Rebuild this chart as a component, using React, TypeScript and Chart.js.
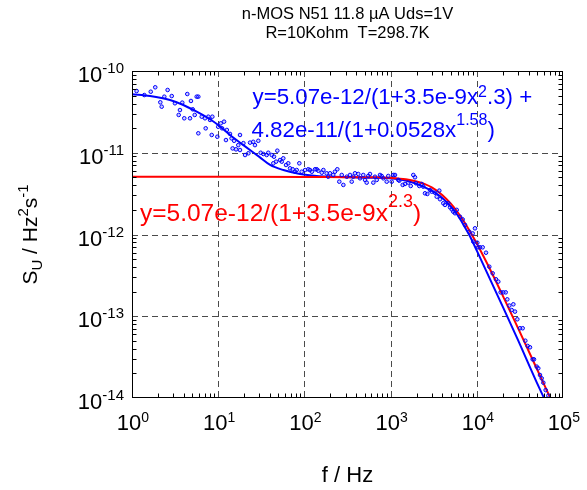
import { useEffect, useRef } from 'react';
import { Chart, registerables } from 'chart.js';

Chart.register(...registerables);

// Measured noise spectrum S_U(f)
const noiseFreq = [
  1.13, 1.39, 1.65, 1.86, 2.13, 2.21, 2.37, 2.59, 2.89, 3.15, 3.48, 3.6, 3.83, 4.04, 4.38, 4.71, 4.83, 5.06, 5.34,
  5.63, 5.88, 5.88, 6.44, 7.03, 7.16, 7.68, 8.04, 8.41, 8.55, 9.77, 10.0, 10.7, 11.1, 11.7, 12.3, 12.6, 13.7, 14.3,
  14.7, 15.3, 16.1, 17.1, 17.9, 17.9, 19.6, 20.5, 22.4, 23.4, 25.5, 26.7, 29.2, 31.1, 33.4, 36.5, 38.1, 41.8, 43.6,
  44.4, 46.9, 48.5, 52.1, 54.6, 56.9, 61.2, 65.0, 68.1, 73.1, 77.8, 81.4, 87.3, 93.0, 102, 111, 116, 122, 133, 139,
  145, 159, 166, 181, 189, 198, 216, 226, 241, 254, 271, 283, 310, 338, 354, 369, 386, 422, 442, 482, 505, 528, 551,
  577, 630, 659, 690, 753, 788, 823, 901, 940, 1030, 1075, 1125, 1228, 1262, 1381, 1469, 1605, 1711, 1834, 1919,
  1972, 2153, 2296, 2394, 2506, 2667, 2865, 2999, 3275, 3428, 3673, 3741, 4085, 4277, 4669, 4887, 5117, 5337, 5585,
  5848, 6383, 6861, 7297, 8188, 8960, 9110, 9527, 10130, 10400, 10890, 11700, 12790, 13960, 15280, 16700, 17750,
  18920, 20280, 21640, 22590, 23830, 25410, 26540, 27730, 29510, 31700, 34050, 36560, 38920, 41410, 44480, 46100,
  49550, 51650, 54080, 56620, 59130, 62950, 67610,
];
const noisePsd = [
  5.69e-11, 5.08e-11, 5.58e-11, 6.32e-11, 4.14e-11, 3.66e-11, 4.85e-11, 5.86e-11, 4.94e-11, 4.03e-11, 2.9e-11,
  3.33e-11, 4.1e-11, 2.64e-11, 5.23e-11, 2.64e-11, 4.3e-11, 3.4e-11, 2.9e-11, 4.85e-11, 4.85e-11, 1.73e-11,
  2.76e-11, 2.64e-11, 1.99e-11, 2.76e-11, 2.52e-11, 1.65e-11, 2.76e-11, 1.57e-11, 2.08e-11, 2.29e-11, 1.99e-11,
  2.4e-11, 1.43e-11, 1.9e-11, 1.7e-11, 1.5e-11, 1.13e-11, 1.4e-11, 1.1e-11, 1.24e-11, 1.65e-11, 1.08e-11, 1.31e-11,
  9.38e-12, 9.85e-12, 1.33e-11, 1.36e-11, 1.24e-11, 1.4e-11, 1.0e-11, 9.66e-12, 9.38e-12, 1.0e-11, 9.38e-12,
  7.43e-12, 8.95e-12, 7.78e-12, 1.06e-11, 8.15e-12, 7.78e-12, 8.55e-12, 7.08e-12, 7.43e-12, 6.45e-12, 6.28e-12,
  5.86e-12, 6.15e-12, 7.43e-12, 5.86e-12, 6.15e-12, 6.28e-12, 6.15e-12, 5.86e-12, 6.28e-12, 6.28e-12, 6.03e-12,
  5.7e-12, 6.15e-12, 5.61e-12, 5.09e-12, 5.61e-12, 5.35e-12, 5.86e-12, 6.28e-12, 4.43e-12, 5.35e-12, 4.04e-12,
  5.09e-12, 5.35e-12, 4.43e-12, 5.09e-12, 5.61e-12, 5.5e-12, 4.87e-12, 5.35e-12, 4.65e-12, 4.31e-12, 5.2e-12,
  5.5e-12, 4.31e-12, 5.09e-12, 4.65e-12, 5.35e-12, 5.2e-12, 4.87e-12, 4.43e-12, 5.2e-12, 4.43e-12, 5.35e-12,
  5.35e-12, 4.65e-12, 4.55e-12, 4.04e-12, 4.15e-12, 4.31e-12, 3.92e-12, 5.35e-12, 5.01e-12, 4.23e-12, 3.92e-12,
  4.15e-12, 3.85e-12, 3.19e-12, 3.13e-12, 3.5e-12, 3.34e-12, 3.24e-12, 2.9e-12, 3.44e-12, 2.7e-12, 2.41e-12,
  2.3e-12, 2.41e-12, 2.15e-12, 2.03e-12, 1.9e-12, 1.82e-12, 2.0e-12, 1.65e-12, 1.53e-12, 1.31e-12, 1.08e-12,
  1.03e-12, 8.17e-13, 1.19e-12, 7.94e-13, 6.97e-13, 6.97e-13, 6.97e-13, 5.99e-13, 4.04e-13, 3.35e-13, 2.83e-13,
  2.65e-13, 1.96e-13, 1.96e-13, 1.96e-13, 1.61e-13, 1.35e-13, 1.19e-13, 1.4e-13, 1.14e-13, 9.18e-14, 7.13e-14,
  7.13e-14, 5.02e-14, 4.33e-14, 4.17e-14, 2.97e-14, 2.97e-14, 2.42e-14, 2.31e-14, 1.91e-14, 1.74e-14, 1.54e-14,
  1.25e-14, 1.07e-14,
];

// Two-term fit (1/f-like part + Lorentzian)
const fitFreq = [
  1, 1.62, 2.76, 3.94, 5.63, 8.04, 10, 13.7, 19.6, 30, 40, 57, 89, 139, 215, 528, 1000, 1540, 2400, 3740, 5850,
  7300, 8330, 10000, 20000, 30000, 50000, 60000, 100000,
];
const fitPsd = [
  5.2e-11, 4.94e-11, 4.42e-11, 3.84e-11, 3.18e-11, 2.57e-11, 2.18e-11, 1.65e-11, 1.24e-11, 8.9e-12, 7.1e-12,
  6.15e-12, 5.5e-12, 5.2e-12, 5.09e-12, 4.95e-12, 4.87e-12, 4.55e-12, 3.85e-12, 2.95e-12, 1.78e-12, 1.22e-12,
  9.5e-13, 6.35e-13, 1.31e-13, 5.13e-14, 1.52e-14, 1.01e-14, 3.2e-15,
];

// Lorentzian term alone
const lorFreq = [
  1, 10, 100, 300, 700, 1000, 1500, 2000, 2500, 3000, 4000, 5000, 6000, 7000, 8500, 10000, 15000, 20000, 30000,
  50000, 70000, 100000,
];
const lorPsd = [
  5.07e-12, 5.07e-12, 5.06e-12, 5.03e-12, 5.01e-12, 4.93e-12, 4.74e-12, 4.46e-12, 4.13e-12, 3.76e-12, 3.03e-12,
  2.38e-12, 1.87e-12, 1.47e-12, 1.05e-12, 7.74e-13, 3.36e-13, 1.79e-13, 7.2e-14, 2.25e-14, 1.04e-14, 4.6e-15,
];

const freqDecades = [1, 10, 100, 1000, 10000, 100000];
const freqExponents = ['0', '1', '2', '3', '4', '5'];
const psdDecades = [1e-10, 1e-11, 1e-12, 1e-13, 1e-14];
const psdExponents = ['-10', '-11', '-12', '-13', '-14'];

const titleLines = ['n-MOS N51 11.8 \u00b5A Uds=1V', 'R=10Kohm  T=298.7K'];

type Seg = [string, number]; // text, 0 = normal, 1 = superscript, -1 = subscript

const xTitle: Seg[] = [['f / Hz', 0]];
const yTitle: Seg[] = [['S', 0], ['U', -1], [' / Hz', 0], ['2', 1], ['s', 0], ['-1', 1]];
const fitLine1: Seg[] = [['y=5.07e-12/(1+3.5e-9x', 0], ['2', 1], ['.3) +', 0]];
const fitLine2: Seg[] = [['4.82e-11/(1+0.0528x', 0], ['1.58', 1], [')', 0]];
const lorLine: Seg[] = [['y=5.07e-12/(1+3.5e-9x', 0], ['2.3', 1], [')', 0]];

const BLUE = '#0000ff';
const RED = '#ff0000';
const FONT = "'Liberation Sans', Arial, Helvetica, sans-serif";

interface RichOpts {
  size: number;
  small: number;
  rise: number;
  drop?: number;
  align?: 'left' | 'center' | 'right';
  color: string;
}

function drawRich(ctx: CanvasRenderingContext2D, segs: Seg[], x: number, y: number, o: RichOpts) {
  const fontFor = (k: number) => `${k === 0 ? o.size : o.small}px ${FONT}`;
  let total = 0;
  const widths = segs.map(([t, k]) => {
    ctx.font = fontFor(k);
    const w = ctx.measureText(t).width;
    total += w;
    return w;
  });
  let cx = o.align === 'center' ? x - total / 2 : o.align === 'right' ? x - total : x;
  ctx.fillStyle = o.color;
  ctx.textAlign = 'left';
  ctx.textBaseline = 'alphabetic';
  segs.forEach(([t, k], i) => {
    ctx.font = fontFor(k);
    const dy = k === 1 ? -o.rise : k === -1 ? (o.drop ?? 5) : 0;
    ctx.fillText(t, cx, y + dy);
    cx += widths[i];
  });
}

const frameAndText = {
  id: 'frameAndText',
  beforeDatasetsDraw(chart: Chart) {
    const { ctx, chartArea: a } = chart;
    const xs = chart.scales.x;
    const ys = chart.scales.y;
    ctx.save();
    ctx.strokeStyle = '#4a4a4a';
    ctx.lineWidth = 1;
    ctx.setLineDash([6, 4]);
    freqDecades.slice(1, -1).forEach((v) => {
      const px = Math.round(xs.getPixelForValue(v)) + 0.5;
      ctx.beginPath();
      ctx.moveTo(px, a.top);
      ctx.lineTo(px, a.bottom);
      ctx.stroke();
    });
    psdDecades.slice(1, -1).forEach((v) => {
      const py = Math.round(ys.getPixelForValue(v)) + 0.5;
      ctx.beginPath();
      ctx.moveTo(a.left, py);
      ctx.lineTo(a.right, py);
      ctx.stroke();
    });
    ctx.restore();
  },
  afterDatasetsDraw(chart: Chart) {
    const { ctx, chartArea: a } = chart;
    const xs = chart.scales.x;
    const ys = chart.scales.y;
    ctx.save();
    ctx.strokeStyle = '#000000';
    ctx.lineWidth = 1;
    ctx.setLineDash([]);
    const L = Math.round(a.left) + 0.5;
    const R = Math.round(a.right) - 0.5;
    const T = Math.round(a.top) + 0.5;
    const B = Math.round(a.bottom) - 0.5;
    ctx.strokeRect(L, T, R - L, B - T);
    const tick = 4;
    ctx.beginPath();
    for (let d = 0; d < freqDecades.length - 1; d++) {
      for (let m = 2; m <= 9; m++) {
        const px = Math.round(xs.getPixelForValue(freqDecades[d] * m)) + 0.5;
        ctx.moveTo(px, B);
        ctx.lineTo(px, B - tick);
        ctx.moveTo(px, T);
        ctx.lineTo(px, T + tick);
      }
    }
    for (let d = 1; d < psdDecades.length; d++) {
      for (let m = 2; m <= 9; m++) {
        const py = Math.round(ys.getPixelForValue(psdDecades[d] * m)) + 0.5;
        ctx.moveTo(L, py);
        ctx.lineTo(L + tick, py);
        ctx.moveTo(R, py);
        ctx.lineTo(R - tick, py);
      }
    }
    ctx.stroke();
    ctx.restore();
  },
  afterDraw(chart: Chart) {
    const { ctx, chartArea: a } = chart;
    const xs = chart.scales.x;
    const ys = chart.scales.y;
    const cx = (a.left + a.right) / 2;
    ctx.save();
    // title
    ctx.fillStyle = '#000';
    ctx.font = `16.5px ${FONT}`;
    ctx.textAlign = 'center';
    ctx.textBaseline = 'alphabetic';
    ctx.fillText(titleLines[0], cx, 19);
    ctx.fillText(titleLines[1], cx, 38);

    // tick labels
    freqDecades.forEach((v, i) => {
      drawRich(ctx, [['10', 0], [freqExponents[i], 1]], xs.getPixelForValue(v) + 1, 430, {
        size: 22, small: 14, rise: 8, align: 'center', color: '#000',
      });
    });
    psdDecades.forEach((v, i) => {
      drawRich(ctx, [['10', 0], [psdExponents[i], 1]], a.left - 8, ys.getPixelForValue(v) + 11, {
        size: 22, small: 15, rise: 9, align: 'right', color: '#000',
      });
    });

    // axis titles
    drawRich(ctx, xTitle, cx, 482, { size: 22, small: 15, rise: 9, align: 'center', color: '#000' });
    ctx.save();
    ctx.translate(37, (a.top + a.bottom) / 2);
    ctx.rotate(-Math.PI / 2);
    drawRich(ctx, yTitle, 0, 0, { size: 21, small: 15, rise: 9, drop: 5, align: 'center', color: '#000' });
    ctx.restore();

    // fit annotations
    drawRich(ctx, fitLine1, 252.5, 104, { size: 22.3, small: 16, rise: 7, color: BLUE });
    drawRich(ctx, fitLine2, 251.5, 137, { size: 22.3, small: 16, rise: 12, color: BLUE });
    drawRich(ctx, lorLine, 140, 221, { size: 24.5, small: 18, rise: 14, color: RED });
    ctx.restore();
  },
};

function toPoints(xs: number[], ys: number[]) {
  return xs.map((x, i) => ({ x, y: ys[i] }));
}

export default function App() {
  const canvasRef = useRef<HTMLCanvasElement | null>(null);

  useEffect(() => {
    const canvas = canvasRef.current;
    if (!canvas) return;
    const chart = new Chart(canvas, {
      type: 'scatter',
      data: {
        datasets: [
          {
            label: 'S_U measured',
            data: toPoints(noiseFreq, noisePsd),
            showLine: false,
            pointStyle: 'circle',
            pointRadius: 1.8,
            pointBorderWidth: 1,
            borderColor: BLUE,
            backgroundColor: 'rgba(0,0,255,0.2)',
            clip: 0,
          },
          {
            label: 'Lorentzian',
            data: toPoints(lorFreq, lorPsd),
            showLine: true,
            borderColor: RED,
            borderWidth: 2,
            pointRadius: 0,
            cubicInterpolationMode: 'monotone',
            clip: 0,
          },
          {
            label: 'Fit',
            data: toPoints(fitFreq, fitPsd),
            showLine: true,
            borderColor: BLUE,
            borderWidth: 2,
            pointRadius: 0,
            cubicInterpolationMode: 'monotone',
            clip: 0,
          },
        ],
      },
      options: {
        animation: false,
        responsive: false,
        devicePixelRatio: 1,
        layout: { padding: { left: 132, right: 24, top: 71, bottom: 92 } },
        plugins: { legend: { display: false }, tooltip: { enabled: false }, title: { display: false } },
        events: [],
        scales: {
          x: { type: 'logarithmic', min: 1, max: 1e5, display: false },
          y: { type: 'logarithmic', min: 1e-14, max: 1e-10, display: false },
        },
      },
      plugins: [frameAndText],
    });
    return () => chart.destroy();
  }, []);

  return (
    <div style={{ position: 'fixed', left: 0, top: 0, width: 587, height: 490, background: '#fff' }}>
      <canvas ref={canvasRef} width={587} height={490} style={{ width: 587, height: 490, display: 'block' }} />
    </div>
  );
}
